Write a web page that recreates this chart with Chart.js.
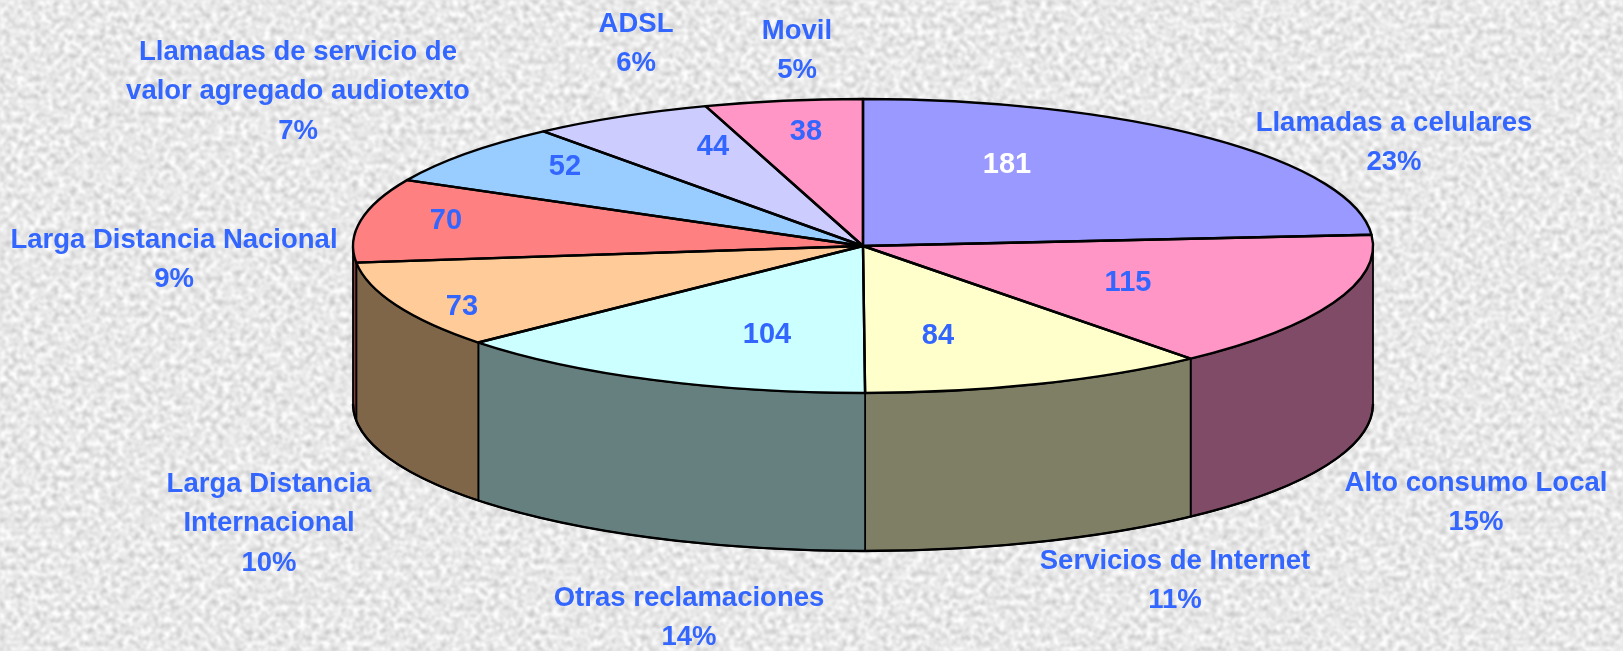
<!DOCTYPE html>
<html>
<head>
<meta charset="utf-8">
<title>Reclamaciones</title>
<script src="https://cdn.jsdelivr.net/npm/chart.js@4"></script>
<style>
  html, body { margin: 0; padding: 0; width: 1623px; height: 651px; overflow: hidden; background: #e8e8e8; }
  #texture { position: absolute; left: 0; top: 0; }
  #chart { position: absolute; left: 0; top: 0; }
</style>
</head>
<body>
<svg id="texture" width="1623" height="651" xmlns="http://www.w3.org/2000/svg">
  <filter id="mottle" x="0" y="0" width="100%" height="100%" color-interpolation-filters="sRGB">
    <feTurbulence type="fractalNoise" baseFrequency="0.17" numOctaves="3" seed="7"/>
    <feColorMatrix type="matrix" values="0.4 0 0 0 0.71  0.4 0 0 0 0.71  0.4 0 0 0 0.71  0 0 0 0 1"/>
    <feGaussianBlur stdDeviation="1"/>
  </filter>
  <rect width="1623" height="651" filter="url(#mottle)"/>
</svg>
<canvas id="chart" width="1623" height="651"></canvas>
<script>
/* ---- DATA ---- */
const categories = [
  ['Llamadas a celulares'],
  ['Alto consumo Local'],
  ['Servicios de Internet'],
  ['Otras reclamaciones'],
  ['Larga Distancia', 'Internacional'],
  ['Larga Distancia Nacional'],
  ['Llamadas de servicio de', 'valor agregado audiotexto'],
  ['ADSL'],
  ['Movil']
];
const values   = [181, 115, 84, 104, 73, 70, 52, 44, 38];
const percents = ['23%', '15%', '11%', '14%', '10%', '9%', '7%', '6%', '5%'];

/* ---- STYLE ---- */
const topColors  = ['#9999FF', '#FF96C6', '#FFFFCC', '#CCFFFF', '#FFCC99', '#FF8080', '#99CCFF', '#CCCCFF', '#FF96C6'];
const sideColors = ['#4C4C7F', '#7F4B66', '#7F7F66', '#667F7F', '#7F6648', '#7F4040', '#4C667F', '#66667F', '#7F4B66'];
const valueColors = ['#FFFFFF', '#3366FF', '#3366FF', '#3366FF', '#3366FF', '#3366FF', '#3366FF', '#3366FF', '#3366FF'];
const BLUE = '#3366FF';
const NAME_FONT  = 'bold 27.5px "Liberation Sans", Arial, sans-serif';
const VALUE_FONT = 'bold 29px "Liberation Sans", Arial, sans-serif';
const LINE_H = 39.5;

// tilted disc on the page
const disc = { cx: 863, cy: 246, rx: 510, ry: 147, depth: 158 };

// label centres, in page pixels
const nameAnchors  = [[1394, 123], [1476, 483], [1175, 561], [689, 598], [269, 484], [174, 240], [298, 52], [636, 24], [797, 31]];
const valueAnchors = [[1007, 165], [1128, 283], [938, 336], [767, 335], [462, 307], [446, 221], [565, 167], [713, 147], [806, 132]];

/* ---- DRAWING ---- */
function drawWalls(ctx, arcs) {
  const { cx, cy, rx, ry, depth } = disc;
  ctx.lineWidth = 1.8;
  ctx.strokeStyle = '#000';
  ctx.lineJoin = 'round';
  arcs.forEach((arc, i) => {
    const a0 = Math.max(arc.startAngle, 0);
    const a1 = Math.min(arc.endAngle, Math.PI);
    if (a1 <= a0) return;
    ctx.beginPath();
    ctx.ellipse(cx, cy, rx, ry, 0, a0, a1);
    ctx.ellipse(cx, cy + depth, rx, ry, 0, a1, a0, true);
    ctx.closePath();
    ctx.fillStyle = sideColors[i];
    ctx.fill();
    ctx.stroke();
  });
  // heavier line along the bottom
  ctx.lineWidth = 2.4;
  ctx.beginPath();
  ctx.ellipse(cx, cy + depth, rx, ry, 0, 0, Math.PI);
  ctx.stroke();
}

function drawTop(ctx, arcs) {
  const { cx, cy, rx, ry } = disc;
  // fills come from the library's own arc elements, squashed onto the disc
  arcs.forEach(arc => {
    ctx.save();
    ctx.translate(cx, cy);
    ctx.scale(rx / arc.outerRadius, ry / arc.outerRadius);
    ctx.translate(-arc.x, -arc.y);
    arc.draw(ctx);
    ctx.restore();
  });
  // outlines are stroked without the squash so the pen stays even
  ctx.strokeStyle = '#000';
  ctx.lineWidth = 2.4;
  arcs.forEach(arc => {
    ctx.beginPath();
    ctx.moveTo(cx, cy);
    ctx.ellipse(cx, cy, rx, ry, 0, arc.startAngle, arc.endAngle);
    ctx.closePath();
    ctx.stroke();
  });
}

function drawLabels(ctx) {
  ctx.textAlign = 'center';
  ctx.textBaseline = 'middle';
  categories.forEach((lines, i) => {
    const [x, y] = nameAnchors[i];
    ctx.font = NAME_FONT;
    ctx.fillStyle = BLUE;
    lines.concat(percents[i]).forEach((txt, k) => ctx.fillText(txt, x, y + k * LINE_H));
    const [vx, vy] = valueAnchors[i];
    ctx.font = VALUE_FONT;
    ctx.fillStyle = valueColors[i];
    ctx.fillText(String(values[i]), vx, vy);
  });
}

const tiltedPie = {
  id: 'tiltedPie',
  beforeDatasetsDraw(chart) {
    const ctx = chart.ctx;
    const arcs = chart.getDatasetMeta(0).data;
    ctx.save();
    drawWalls(ctx, arcs);
    drawTop(ctx, arcs);
    drawLabels(ctx);
    ctx.restore();
    return false;
  }
};

/* ---- MAIN INIT ---- */
new Chart(document.getElementById('chart'), {
  type: 'pie',
  data: {
    labels: categories.map(c => c.join(' ')),
    datasets: [{ data: values, backgroundColor: topColors, borderWidth: 0 }]
  },
  options: {
    responsive: false,
    animation: false,
    plugins: { legend: { display: false }, tooltip: { enabled: false } }
  },
  plugins: [tiltedPie]
});
</script>
</body>
</html>
